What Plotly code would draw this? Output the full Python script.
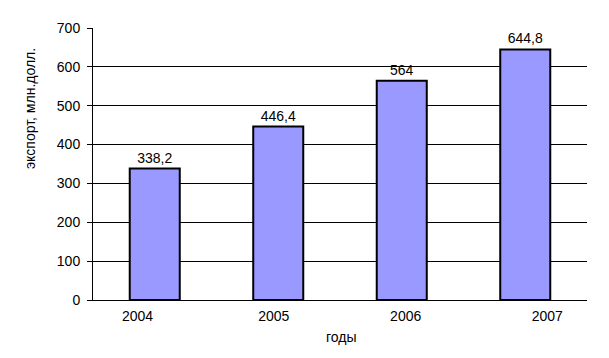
import plotly.graph_objects as go

years = ["2004", "2005", "2006", "2007"]
export_values = [338.2, 446.4, 564.0, 644.8]
y_ticks = [0, 100, 200, 300, 400, 500, 600, 700]
y_title = "экспорт, млн.долл."
x_title = "годы"

# Label offsets relative to bar centres (category units), mimicking source chart
label_offsets = [-0.14, -0.036, 0.032, 0.178]

labels = [f"{v:g}".replace(".", ",") for v in export_values]
idx = list(range(len(years)))

FONT = "Liberation Sans, Arial, sans-serif"
FS = 14

fig = go.Figure()
fig.add_trace(go.Bar(
    x=idx, y=export_values,
    text=labels, textposition="outside", cliponaxis=False,
    textfont=dict(family=FONT, size=FS, color="#000000"),
    marker=dict(color="#9999FF", line=dict(color="#000000", width=2)),
    width=0.405, showlegend=False, hoverinfo="skip",
))

fig.update_layout(
    width=601, height=350,
    margin=dict(l=85, r=22, t=17, b=58),
    paper_bgcolor="white", plot_bgcolor="white",
    font=dict(family=FONT, size=FS, color="#000000"),
    xaxis=dict(
        range=[-0.5, len(years) - 0.5],
        tickvals=[i + o for i, o in zip(idx, label_offsets)],
        ticktext=years,
        showgrid=False, zeroline=False,
        showline=True, linecolor="#000000", linewidth=1,
        ticks="outside", ticklen=3, tickcolor="rgba(0,0,0,0)",
        tickfont=dict(family=FONT, size=FS, color="#000000"),
    ),
    yaxis=dict(
        range=[0, 700], tickvals=y_ticks,
        showgrid=True, gridcolor="#000000", gridwidth=1,
        zeroline=False,
        showline=True, linecolor="#000000", linewidth=1,
        ticks="outside", ticklen=5, tickcolor="#000000",
        ticklabelstandoff=4,
        tickfont=dict(family=FONT, size=FS, color="#000000"),
    ),
    annotations=[
        dict(text=y_title, xref="paper", yref="paper", x=0, y=0.702,
             xshift=-63, textangle=-90, showarrow=False,
             xanchor="center", yanchor="middle",
             font=dict(family=FONT, size=FS, color="#000000")),
        dict(text=x_title, xref="paper", yref="paper", x=0.504, y=0,
             yshift=-37, showarrow=False, xanchor="center", yanchor="middle",
             font=dict(family=FONT, size=FS, color="#000000")),
    ],
)

fig.write_html("out.html")
